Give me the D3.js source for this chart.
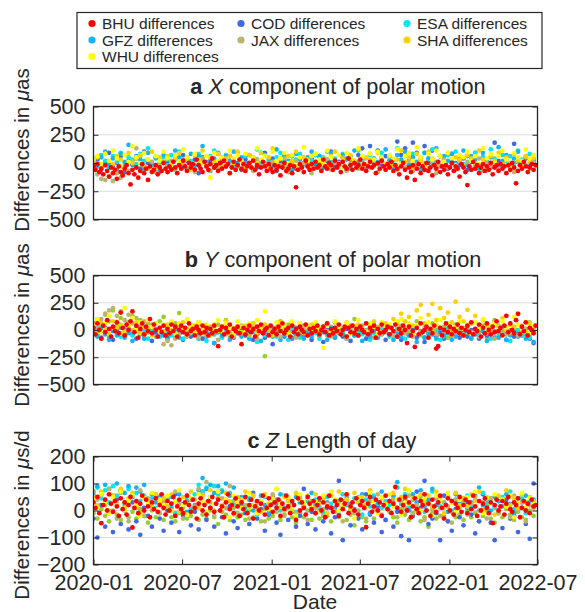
<!DOCTYPE html>
<html><head><meta charset="utf-8">
<script src="https://cdn.jsdelivr.net/npm/d3@7"></script>
<style>
body{margin:0;background:#fff}
svg{display:block}
text{font-family:"Liberation Sans",Arial,Helvetica,sans-serif;fill:#262626}
</style>
</head><body>
<svg id="chart" width="585" height="612"></svg>
<script>
// ---------- data ----------
const startDate = "2020-01-01";
const stepFine = 4;    // days between BHU samples
const stepCoarse = 8;  // days between samples of other series
const xTickLabels = ["2020-01","2020-07","2021-01","2021-07","2022-01","2022-07"];
const seriesNames = ["BHU","COD","ESA","GFZ","JAX","SHA","WHU"];
const seriesColors = {BHU:"#ff0000",COD:"#4169e1",ESA:"#00e8f2",GFZ:"#12b4f2",JAX:"#bab46e",SHA:"#ffd000",WHU:"#ffff00",OTH:"#9acd32"};
const drawOrder = ["OTH","COD","ESA","GFZ","JAX","SHA","WHU","BHU"];
const panelLetters = ["a","b","c"];
const panelSymbols = ["X","Y","Z"];
const panelTitleRest = [" component of polar motion"," component of polar motion"," Length of day"];
const yUnits = ["as","as","s/d"];
const yTicksA = [500,250,0,-250,-500];
const yTicksB = [500,250,0,-250,-500];
const yTicksC = [200,100,0,-100,-200];

// Panel a: X component (µas)
const aBHU = [-30,-60,-10,-80,-50,-100,-20,-70,-120,-40,-90,-60,-140,-30,-80,-110,-50,-20,-90,
-190,-60,-100,-40,-130,-70,-10,-90,-50,-150,-30,-80,-60,-20,-100,-40,-70,0,-50,
-80,-30,-60,10,-40,-90,-20,-50,20,-30,-70,0,-40,-10,-60,30,-20,-50,-80,
10,-30,-60,-10,40,-40,-20,-70,0,-50,20,-30,-10,-90,-40,10,-60,-20,30,
-50,-10,-70,-30,0,-40,20,-60,-20,-100,-40,10,-30,-70,-10,-50,-80,-20,-60,
-30,-110,-40,0,-70,-50,-20,-90,-30,-215,-60,-10,-40,-80,20,-30,-60,-10,-50,
10,-40,-20,-70,30,-30,-50,0,-20,-60,20,-40,-10,-80,10,-30,-50,40,-20,
-60,0,-40,-20,30,-50,-10,-70,-30,10,-40,-20,-90,0,-50,20,-30,-60,-10,
-40,10,-70,-20,-50,-100,-30,0,-60,-130,-40,-80,-20,-150,-50,-10,-90,-30,-60,
0,-70,-40,-110,-20,-50,10,-80,-30,-60,-20,-100,-40,0,-70,-30,-50,-120,-10,
-40,-80,-195,-30,-60,10,-50,-20,-90,-40,-10,-70,-30,-60,0,-100,-40,-20,-70,
-10,-50,-30,-90,-20,-60,0,-40,-180,-70,-20,-50,10,-30,-80,-40,-10,-60,-20];
const aWHU = [30,60,-10,80,20,110,40,-30,70,10,150,50,0,90,30,-60,60,20,100,
40,-20,70,10,120,50,-40,80,30,0,60,-130,90,20,50,-10,110,40,70,
10,80,-20,50,130,30,60,-50,100,20,40,90,0,70,-30,50,140,20,60,
80,30,-10,110,50,20,70,-40,90,40,10,130,60,-20,80,30,100,50,0,
70,40,120,-10,60,90,20,140,50,-30,80,30,110,60,10,90,40,-20,70,
50,100,20,60,-10,130,40,80,0,60,110,30,-40,90,50,20,120,40,70];
const aGFZ = [20,-30,50,100,-10,40,-60,80,10,160,-20,60,30,-50,90,0,40,-80,70,
30,-10,110,50,-40,20,80,-20,60,150,10,-70,40,90,-30,60,20,100,-10,
50,0,70,-50,30,90,-20,40,10,120,-30,60,20,-60,80,30,-10,50,100,
0,60,-40,30,90,20,-20,70,40,-50,110,10,60,-30,80,30,-10,50,120,
20,-40,70,30,100,-20,50,10,-60,90,40,0,130,-30,60,20,80,-10,40,
110,-20,60,30,-50,90,10,50,-30,140,20,70,-10,40,100,0,60,-40,30];
const aESA = [40,0,70,20,-40,60,10,90,-20,50,30,-10,80,20,130,-30,60,0,40,
-20,70,30,100,-10,50,20,-50,80,40,0,60,110,-20,40,70,10,-40,90,
30,60,-10,40,120,0,70,20,-30,50,90,10,-20,60,30,80,-10,40,20,
70,-20,50,100,10,40,-40,80,30,60,0,110,20,-30,70,40,10,90,-10,
50,20,130,-20,60,30,80,0,-50,90,40,120,10,60,-30,70,20,100,30,
-10,60,30,90,-20,50,10,120,40,-30,70,20,60,0,110,30,-20,80,40];
const aCOD = [-20,30,-60,10,90,-40,0,60,-80,20,-10,40,-50,100,0,-30,50,-70,20,
10,-50,40,-20,70,-60,0,30,-90,50,-10,20,-40,80,10,-30,60,-20,0,
-60,30,-10,50,-40,0,90,-20,40,-70,10,60,-30,20,-50,70,0,-20,40,
-10,60,-40,20,100,-30,10,50,-60,30,0,70,130,-20,150,40,110,-10,60,
20,-40,190,70,130,-20,180,90,40,150,0,110,-30,60,20,-50,80,0,-20,
40,-60,10,90,-30,50,0,-40,180,20,-10,60,-50,170,10,-20,40,-30,20];
const aJAX = [-60,-100,-140,-150,-120,-160,-90,-130,-40,-70,20,130,60,-20,-50,10,-80,-30,0,
-40,20,-60,-10,30,-50,0,-80,-20,40,-30,-70,10,-40,50,-20,-90,0,-30,
20,-50,-10,-70,30,-30,0,-60,10,-40,-20,40,-80,-10,20,-50,0,-30,-90,
10,-40,-20,30,-60,0,-30,50,-70,-10,20,-50,-20,40,-40,0,-80,10,-30,
-20,30,-60,0,-40,20,-70,-10,40,-30,-50,10,-90,-20,30,-40,0,-60,20,
-30,10,-50,-20,40,-70,0,-30,20,-60,-10,30,-40,-80,10,-20,50,-50,0];
const aSHA = [10,50,-30,80,20,-10,60,30,-50,90,0,40,70,-20,30,100,-40,50,20,
60,-10,40,90,0,30,-60,70,20,110,-20,50,10,80,-30,40,60,0,100,
20,-40,70,30,0,90,-20,50,130,10,40,-30,60,20,100,-10,50,30,-50,
80,10,40,-20,60,100,0,30,-40,70,20,120,-10,50,30,-30,90,40,0,
60,-20,30,110,10,50,-40,80,20,0,100,40,-30,60,10,90,-10,50,30,
-20,70,40,0,110,30,-40,60,20,90,-10,50,0,80,30,-30,60,10,40];
const aOTH = [];

// Panel b: Y component (µas)
const bBHU = [20,-40,60,0,-80,40,-20,90,10,-60,30,-10,70,-30,160,20,-50,50,0,
80,170,-20,40,-70,10,60,-40,30,-10,100,-30,50,0,-60,20,-20,40,-50,
10,-30,50,-10,30,-60,0,40,-20,20,-40,60,-10,10,-50,30,0,-30,40,
-20,20,-50,10,-30,40,-10,-148,0,30,-40,20,-20,50,-60,10,-10,30,-30,
-130,20,-40,0,40,-20,10,-60,30,-10,50,-30,0,20,-50,40,-20,10,-40,
30,-10,60,-30,0,20,-60,40,-20,10,-40,30,0,-20,50,-50,10,-30,20,
-10,40,-40,0,30,-20,60,-50,10,-30,20,-10,50,-40,0,30,-60,20,-20,
40,-30,10,-50,30,0,-20,60,-40,20,-10,40,-70,10,-30,50,-20,0,30,
-40,20,-10,50,-60,10,-30,40,0,-120,30,-50,-10,-155,20,-40,60,-20,0,
30,-70,10,-30,40,-170,-148,20,-50,0,60,-20,30,-40,10,-10,50,-30,20,
-50,0,40,-20,70,-40,10,-10,50,-60,20,-30,60,0,-40,30,-20,80,-10,
20,-50,40,130,-20,60,0,-30,90,148,-40,30,-10,70,-50,20,0,-30,40];
const bWHU = [40,100,-20,60,130,20,80,-30,200,50,110,0,70,-40,90,30,60,-10,50,
20,80,-30,60,10,100,40,-20,70,0,50,-50,30,90,-10,60,20,-40,80,
30,-20,60,10,90,0,170,40,-30,70,20,50,-40,80,10,60,-20,40,0,
70,20,-165,50,-10,80,30,0,60,-30,40,90,10,-20,60,30,-40,70,20,
50,-10,80,100,20,60,-30,40,110,10,70,-20,50,90,0,60,-40,30,80,
10,50,-30,70,20,100,-10,40,60,0,80,30,-20,120,50,10,70,-30,40];
const bSHA = [30,-20,60,10,-40,80,20,50,-10,40,0,70,-30,30,10,-50,60,20,-10,
50,0,-40,30,70,10,-20,40,60,-30,20,0,50,-10,30,80,-40,20,10,
-20,40,10,60,-30,20,50,0,-50,30,70,10,-20,40,0,60,-30,20,50,
10,-40,30,60,0,-20,40,10,70,-30,20,50,0,-10,40,80,20,-20,60,
30,100,50,150,80,120,40,180,230,60,140,240,90,200,110,160,70,260,120,
80,185,60,130,20,90,40,-10,70,30,110,0,50,20,150,40,-20,60,30];
const bJAX = [60,20,100,150,180,200,130,170,90,140,60,110,30,80,-20,50,-60,-10,-130,
-100,-140,-80,-40,10,-60,20,-30,-70,0,-50,30,-20,-90,10,-40,-10,-60,20,
-30,0,-50,20,-80,-10,30,-40,-20,10,-60,0,-30,40,-70,-10,20,-50,-20,
10,-40,30,-10,-60,20,-30,0,-80,40,-20,-50,10,-30,0,-70,30,-40,-10,
20,-50,0,40,-30,-10,-60,30,-20,10,-70,0,-40,20,-10,50,-50,-20,10,
-40,30,-20,0,-60,20,-30,10,-80,40,-10,-40,0,30,-50,-20,10,-30,20];
const bOTH = [60,100,20,140,80,180,40,110,-20,70,130,30,90,-40,60,10,-50,80,120,
20,-30,60,155,0,-60,40,-10,70,-80,30,0,-40,50,-20,90,-70,10,-30,
40,-50,20,60,-20,0,-240,30,-60,10,80,-30,50,-10,20,-70,40,0,-40,
60,-20,10,-50,30,70,-30,0,-60,20,100,-10,40,-80,10,50,-40,0,-20,
30,-60,70,0,-30,40,-10,80,-50,20,-20,60,0,-40,30,-70,10,50,-30,
20,-50,60,0,-20,40,-70,10,90,-30,30,-10,50,-60,0,20,-40,70,-10];
const bGFZ = [-20,-60,10,-40,-90,-10,-50,20,-70,-30,-100,0,-40,-80,-20,30,-60,-10,-50,
-90,-30,0,-70,-20,-50,10,-40,-80,-10,-60,-30,-120,-20,-50,0,-90,-40,-10,
-60,-20,-80,10,-40,-100,-30,0,-60,-20,-90,-50,-10,-70,20,-40,-80,-30,-60,
0,-50,-20,-90,-30,-60,10,-40,-80,-20,-50,0,-100,-30,-60,-10,-70,-40,20,
-40,-90,-20,-60,0,-50,-30,-110,-10,-70,-40,-20,-80,10,-50,-30,-90,-60,-20,
-50,-10,-80,-30,-60,0,-100,-40,-20,-70,-30,-90,-50,-10,-60,-20,-80,-40,-110];
const bESA = [0,-40,30,-20,-70,10,-30,-60,20,-10,-50,40,-30,0,-80,-20,10,-60,-30,
-10,-50,20,-40,-80,0,-30,30,-60,-20,-100,10,-40,-10,-70,20,-30,-50,0,
-40,10,-70,-20,-110,0,-50,-30,20,-60,-10,-40,-90,0,-30,-60,10,-20,-50,
-30,-80,0,-40,20,-60,-10,-30,-70,10,-50,-20,-40,0,-90,-30,-60,10,-20,
-60,-20,10,-40,-80,-10,-50,20,-30,-70,0,-40,-20,-90,-60,10,-30,-50,-10,
-40,0,-70,-20,-50,10,-30,-80,-10,-60,20,-40,-100,-20,0,-50,-30,-70,-110];
const bCOD = [-40,-10,-70,20,-50,-90,0,-30,-60,10,-40,-80,-20,-50,0,-100,-30,-60,-10,
-70,-20,-50,10,-90,-30,-60,0,-40,-80,-10,-50,-120,-20,-60,10,-40,-70,-30,
0,-50,-20,-90,-40,-10,-70,-30,-130,-50,0,-60,-20,-80,-40,10,-60,-30,-90,
-20,-50,-110,0,-40,-70,-20,-60,10,-100,-30,-50,-10,-80,-40,0,-60,-20,-90,
-40,-10,-60,-90,-20,-50,0,-70,-30,-110,-10,-40,-60,-20,-80,10,-50,-30,-70,
-20,-60,0,-40,-80,-10,-50,-30,-70,0,-40,-90,-20,-60,-10,-50,-30,-80,-120];

// Panel c: Length of day (µs/d)
const cBHU = [30,10,50,-10,-47,20,40,0,60,25,-5,35,15,-20,45,5,30,-15,20,
50,-63,10,35,-10,25,55,0,40,15,-25,30,5,45,-5,20,60,10,-15,
35,0,25,50,-20,15,40,5,-10,30,55,20,-5,40,10,-30,25,45,0,
20,-15,35,10,50,-5,25,40,0,15,-25,30,60,5,20,-10,45,15,-20,
30,5,50,-10,20,40,-30,15,35,0,25,55,-15,10,45,20,-5,30,10,
40,-20,25,5,55,15,-10,35,20,-35,45,0,30,10,-15,50,25,5,35,
-10,20,45,0,30,-25,15,55,10,-5,35,20,-20,40,5,25,60,-10,15,
30,0,45,-15,20,35,10,-62,25,50,-5,15,40,0,30,-20,20,55,5,
35,-10,25,87,10,40,-5,20,50,0,30,-25,15,45,5,-10,35,20,60,
0,25,-20,40,15,-5,30,55,10,-30,20,45,0,35,-15,25,10,50,-5,
20,40,-10,30,5,55,15,-20,35,0,25,45,10,-10,30,-47,20,40,0,
15,35,-15,25,50,5,-5,30,20,45,-25,10,35,0,25,-10,40,15,20];
const cWHU = [40,10,60,30,-10,50,20,70,0,35,55,15,-20,45,25,65,5,40,20,
55,0,35,75,20,-15,45,10,60,30,-5,50,25,70,15,40,-25,55,30,
10,45,65,20,-10,35,55,5,40,80,25,0,50,15,-20,60,30,45,10,
35,-5,55,20,70,40,0,25,60,15,-30,45,30,10,65,35,-10,50,20,
60,15,40,-15,30,75,20,50,0,45,25,-20,55,35,10,65,30,-5,40,
20,50,5,70,35,-10,45,25,60,0,40,15,55,-25,30,65,10,45,25];
const cSHA = [50,20,70,35,0,55,25,80,10,45,65,30,-10,50,40,15,60,30,45,
15,60,35,-5,50,25,70,40,10,55,30,75,0,45,20,65,35,-15,50,
40,70,10,55,30,-5,60,25,45,80,15,50,35,0,65,40,20,55,30,
60,25,45,-10,55,35,70,15,40,5,65,30,50,20,75,35,-5,45,25,
35,65,10,50,80,25,45,0,60,30,55,15,70,40,-10,50,30,65,20,
45,15,60,35,70,5,50,25,-15,55,40,75,20,45,10,60,30,50,35];
const cJAX = [70,40,60,20,80,50,-30,65,30,-40,55,10,75,-20,45,25,60,-10,35,
50,0,70,25,-30,55,40,15,80,60,105,30,-20,70,45,10,90,35,-10,
40,20,-30,55,10,35,-40,25,60,0,30,-20,45,15,-10,50,20,-35,35,
10,45,-20,25,55,0,30,-40,40,15,-10,50,20,-30,35,5,60,-15,25,
0,40,-25,30,10,55,-10,20,45,-35,25,5,50,-20,30,15,-45,40,10,
35,-15,25,50,0,30,-30,45,15,-10,40,20,-25,55,5,30,-40,20,10];
const cOTH = [-10,-30,5,-20,-40,0,-15,-35,10,-25,-5,-30,5,-20,-45,0,-25,-10,-35,
0,-25,-40,-10,10,-30,-20,5,-35,-15,-30,0,-25,-50,-5,-15,-35,10,-25,
-15,-35,0,-25,-10,-40,5,-30,-20,-5,-35,-15,10,-25,-45,-10,-25,0,-35,
-10,-30,5,-20,-40,-5,-25,10,-35,-15,-55,0,-25,-40,-10,-30,0,-20,-35,
-5,-25,-45,5,-15,-35,-10,0,-40,-25,-60,-10,-30,10,-20,-40,-5,-25,-15,
-35,0,-25,-10,-40,-20,0,-30,-45,-10,-25,5,-15,-35,-5,-25,-35,0,-20];
const cGFZ = [70,90,60,95,80,55,100,75,65,90,50,85,70,95,40,60,30,50,20,
45,10,35,60,25,-5,40,20,75,120,80,95,65,90,70,100,55,85,30,
50,15,40,0,30,55,20,-10,45,25,60,10,35,-5,50,30,15,40,65,
20,0,45,30,55,10,-15,35,50,25,5,40,60,20,-10,45,30,70,15,
35,55,105,25,45,0,60,30,75,15,40,80,20,50,10,-5,35,60,25,
45,10,30,55,85,20,40,0,50,35,15,60,25,-10,45,30,55,20,40];
const cESA = [60,85,45,75,30,90,55,70,20,80,50,65,35,55,25,45,10,40,30,
15,50,-10,35,20,45,5,60,95,70,85,50,90,60,75,40,65,25,50,
30,5,45,20,-15,35,50,10,25,40,0,55,15,30,-5,45,20,35,10,
40,15,-10,50,25,5,35,60,20,0,45,30,-15,40,15,55,25,10,35,
20,50,85,30,60,10,40,25,55,-5,35,70,45,15,30,50,0,40,20,
30,55,15,40,0,65,25,45,10,35,50,20,70,5,30,45,-10,35,25];
const cCOD = [-30,-100,20,-60,-10,-80,40,-50,0,-70,30,-40,-90,10,-20,-60,50,-30,-75,
0,-45,60,-80,-20,30,-55,-5,-70,70,-35,10,-60,45,-25,-85,15,-40,-65,
20,-10,-50,65,-30,5,-75,-15,50,-45,-90,0,-35,25,-60,-20,80,-50,-5,
-70,30,-40,10,-85,-25,110,-110,35,-55,0,-30,-70,60,-15,-45,15,-80,-35,
25,-60,-5,-95,40,-110,-20,70,10,110,-50,-30,-10,-110,55,-40,-75,5,-25,
-55,30,-15,-85,-40,60,20,-45,-110,-5,-65,40,-30,-20,-80,10,-50,-105,100];

// ---------- assemble ----------
const panels = [
  {series:{BHU:aBHU,COD:aCOD,ESA:aESA,GFZ:aGFZ,JAX:aJAX,SHA:aSHA,WHU:aWHU,OTH:aOTH}, ticks:yTicksA},
  {series:{BHU:bBHU,COD:bCOD,ESA:bESA,GFZ:bGFZ,JAX:bJAX,SHA:bSHA,WHU:bWHU,OTH:bOTH}, ticks:yTicksB},
  {series:{BHU:cBHU,COD:cCOD,ESA:cESA,GFZ:cGFZ,JAX:cJAX,SHA:cSHA,WHU:cWHU,OTH:cOTH}, ticks:yTicksC}
];

// ---------- layout ----------
const L = {left:93.5, right:537.5,
  panels:[{top:106.5,bottom:219.5,title:94,titleX:338,ylabY:150},
          {top:275.5,bottom:384.5,title:267,titleX:333,ylabY:325},
          {top:456.5,bottom:564.5,title:448,titleX:332,ylabY:515}]};
const svg = d3.select("#chart");
const t0 = d3.timeParse("%Y-%m-%d")(startDate);
const parseM = d3.timeParse("%Y-%m");
const xTickDates = xTickLabels.map(parseM);
const x = d3.scaleTime().domain([xTickDates[0], xTickDates[xTickDates.length-1]]).range([L.left, L.right]);
const fmt = d3.format("");

panels.forEach((p, pi) => {
  const geo = L.panels[pi];
  const ext = d3.max(p.ticks);
  const y = d3.scaleLinear().domain([-ext, ext]).range([geo.bottom, geo.top]);
  const g = svg.append("g");
  const clipId = "clip"+pi;
  svg.append("clipPath").attr("id", clipId).append("rect")
    .attr("x", L.left).attr("y", geo.top).attr("width", L.right-L.left).attr("height", geo.bottom-geo.top);
  // grid
  g.selectAll(".grid").data(p.ticks.filter(v => Math.abs(v) < ext)).enter().append("line")
    .attr("x1", L.left).attr("x2", L.right).attr("y1", d => y(d)).attr("y2", d => y(d))
    .attr("stroke", "#dcdcdc").attr("stroke-width", 1.2);
  // points
  const pg = g.append("g").attr("clip-path", `url(#${clipId})`);
  drawOrder.forEach(name => {
    const vals = p.series[name];
    const step = name === "BHU" ? stepFine : stepCoarse;
    pg.append("g").selectAll("circle").data(vals).enter().append("circle")
      .attr("cx", (d, i) => x(d3.timeDay.offset(t0, i*step)))
      .attr("cy", d => y(d))
      .attr("r", name === "BHU" ? 2.4 : 2.35)
      .attr("fill", seriesColors[name]);
  });
  // y axis left & right
  const yAxisL = d3.axisLeft(y).tickValues(p.ticks).tickSize(-5).tickPadding(8).tickFormat(fmt);
  const ax = g.append("g").attr("transform", `translate(${L.left},0)`).call(yAxisL);
  ax.select(".domain").remove();
  ax.selectAll(".tick line").attr("stroke", "#262626");
  ax.selectAll(".tick text").attr("font-size", "21.5px").attr("fill", "#262626")
    .attr("font-family", '"Liberation Sans",Arial,sans-serif');
  const axR = g.append("g").attr("transform", `translate(${L.right},0)`)
    .call(d3.axisRight(y).tickValues(p.ticks).tickSize(-5).tickFormat(""));
  axR.select(".domain").remove();
  axR.selectAll(".tick line").attr("stroke", "#262626");
  // x ticks for bottom panel
  if (pi === 2) {
    const xb = g.append("g").attr("transform", `translate(0,${geo.bottom})`)
      .call(d3.axisBottom(x).tickValues(xTickDates).tickSize(-5).tickPadding(10).tickFormat((d,i) => xTickLabels[i]));
    xb.select(".domain").remove();
    xb.selectAll(".tick line").attr("stroke", "#262626");
    xb.selectAll(".tick text").attr("font-size", "21.5px").attr("fill", "#262626")
      .attr("font-family", '"Liberation Sans",Arial,sans-serif');
    const xt = g.append("g").attr("transform", `translate(0,${geo.top})`)
      .call(d3.axisTop(x).tickValues(xTickDates).tickSize(-5).tickFormat(""));
    xt.select(".domain").remove();
    xt.selectAll(".tick line").attr("stroke", "#262626");
  }
  // box
  g.append("rect").attr("x", L.left).attr("y", geo.top)
    .attr("width", L.right-L.left).attr("height", geo.bottom-geo.top)
    .attr("fill", "none").attr("stroke", "#262626").attr("stroke-width", 1.3);
  // title
  const tt = g.append("text").attr("x", geo.titleX).attr("y", geo.title)
    .attr("text-anchor", "middle").attr("font-size", "21.7px").attr("fill", "#000");
  tt.append("tspan").attr("font-weight", "bold").text(panelLetters[pi]);
  tt.append("tspan").text(" ");
  tt.append("tspan").attr("font-style", "italic").text(panelSymbols[pi]);
  tt.append("tspan").text(panelTitleRest[pi]);
  // y label
  const yl = g.append("text").attr("transform", `translate(29,${geo.ylabY}) rotate(-90)`)
    .attr("text-anchor", "middle").attr("font-size", "20.5px");
  yl.append("tspan").text("Differences in ");
  yl.append("tspan").attr("font-style", "italic").text("\u03bc");
  yl.append("tspan").text(yUnits[pi]);
});

// x label
svg.append("text").attr("x", 315).attr("y", 609).attr("text-anchor", "middle")
  .attr("font-size", "21px").text("Date");

// ---------- legend ----------
const leg = svg.append("g");
leg.append("rect").attr("x", 77).attr("y", 12.5).attr("width", 465).attr("height", 56)
  .attr("fill", "#fff").attr("stroke", "#262626").attr("stroke-width", 1.2);
const legCols = [92, 241, 407];
const legRows = [23.5, 40, 56.5];
seriesNames.forEach((name, i) => {
  const cx = legCols[i % 3], cy = legRows[Math.floor(i / 3)];
  leg.append("circle").attr("cx", cx).attr("cy", cy).attr("r", 3.6).attr("fill", seriesColors[name]);
  leg.append("text").attr("x", cx + 10).attr("y", cy).attr("dy", "0.36em")
    .attr("font-size", "15.5px").attr("fill", "#000").text(name + " differences");
});
</script>
</body></html>
